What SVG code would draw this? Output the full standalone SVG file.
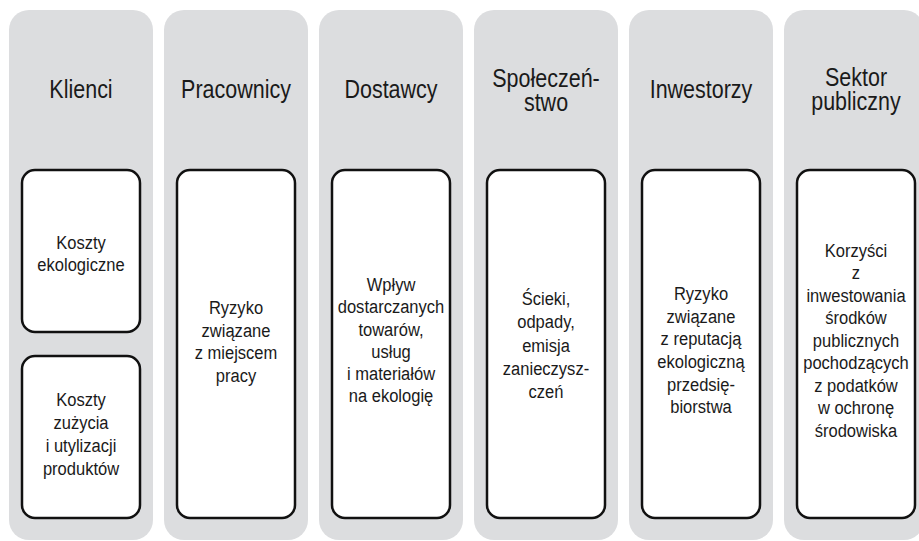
<svg xmlns="http://www.w3.org/2000/svg" width="919" height="541" viewBox="0 0 919 541">
  <style>
    .col { fill: #dcdddf; }
    .box { fill: #ffffff; stroke: #111111; stroke-width: 2.5; }
    .title { font-family: "Liberation Sans", Arial, sans-serif; font-size: 25px; fill: #1a1a1a; text-anchor: middle; }
    .label { font-family: "Liberation Sans", Arial, sans-serif; font-size: 19px; fill: #1a1a1a; text-anchor: middle; }
  </style>
  <rect width="919" height="541" fill="#ffffff"/>

  <!-- Stakeholder columns -->
  <g id="col-klienci">
    <rect class="col" x="9" y="10" width="144" height="530" rx="20"/>
    <text class="title" transform="translate(81 0) scale(0.86 1)"><tspan x="0" y="98">Klienci</tspan></text>
  </g>
  <g id="col-pracownicy">
    <rect class="col" x="164" y="10" width="144" height="530" rx="20"/>
    <text class="title" transform="translate(236 0) scale(0.86 1)"><tspan x="0" y="98">Pracownicy</tspan></text>
  </g>
  <g id="col-dostawcy">
    <rect class="col" x="319" y="10" width="144" height="530" rx="20"/>
    <text class="title" transform="translate(391 0) scale(0.86 1)"><tspan x="0" y="98">Dostawcy</tspan></text>
  </g>
  <g id="col-spoleczenstwo">
    <rect class="col" x="474" y="10" width="144" height="530" rx="20"/>
    <text class="title" transform="translate(546 0) scale(0.86 1)"><tspan x="0" y="87">Społeczeń-</tspan><tspan x="0" y="111">stwo</tspan></text>
  </g>
  <g id="col-inwestorzy">
    <rect class="col" x="629" y="10" width="144" height="530" rx="20"/>
    <text class="title" transform="translate(701 0) scale(0.86 1)"><tspan x="0" y="98">Inwestorzy</tspan></text>
  </g>
  <g id="col-sektor">
    <rect class="col" x="784" y="10" width="140" height="530" rx="20"/>
    <text class="title" transform="translate(856 0) scale(0.86 1)"><tspan x="0" y="86">Sektor</tspan><tspan x="0" y="110">publiczny</tspan></text>
  </g>

  <!-- Impact boxes -->
  <g id="box-koszty-ekologiczne">
    <rect class="box" x="22" y="170" width="118" height="162" rx="13"/>
    <text class="label" transform="translate(81 0) scale(0.87 1)"><tspan x="0" y="249">Koszty</tspan><tspan x="0" y="271">ekologiczne</tspan></text>
  </g>
  <g id="box-koszty-zuzycia">
    <rect class="box" x="22" y="356" width="118" height="162" rx="13"/>
    <text class="label" transform="translate(81 0) scale(0.87 1)"><tspan x="0" y="406">Koszty</tspan><tspan x="0" y="429">zużycia</tspan><tspan x="0" y="452">i utylizacji</tspan><tspan x="0" y="475">produktów</tspan></text>
  </g>
  <g id="box-ryzyko-pracy">
    <rect class="box" x="177" y="170" width="118" height="348" rx="13"/>
    <text class="label" transform="translate(236 0) scale(0.87 1)"><tspan x="0" y="314">Ryzyko</tspan><tspan x="0" y="336.7">związane</tspan><tspan x="0" y="359.4">z miejscem</tspan><tspan x="0" y="382">pracy</tspan></text>
  </g>
  <g id="box-wplyw">
    <rect class="box" x="332" y="170" width="118" height="348" rx="13"/>
    <text class="label" transform="translate(391 0) scale(0.87 1)"><tspan x="0" y="291">Wpływ</tspan><tspan x="0" y="313.3">dostarczanych</tspan><tspan x="0" y="335.6">towarów,</tspan><tspan x="0" y="357.9">usług</tspan><tspan x="0" y="380.2">i materiałów</tspan><tspan x="0" y="402.5">na ekologię</tspan></text>
  </g>
  <g id="box-scieki">
    <rect class="box" x="487" y="170" width="118" height="348" rx="13"/>
    <text class="label" transform="translate(546 0) scale(0.87 1)"><tspan x="0" y="305">Ścieki,</tspan><tspan x="0" y="328.3">odpady,</tspan><tspan x="0" y="351.6">emisja</tspan><tspan x="0" y="374.9">zanieczysz-</tspan><tspan x="0" y="398.2">czeń</tspan></text>
  </g>
  <g id="box-ryzyko-reputacji">
    <rect class="box" x="642" y="170" width="118" height="348" rx="13"/>
    <text class="label" transform="translate(701 0) scale(0.87 1)"><tspan x="0" y="300">Ryzyko</tspan><tspan x="0" y="322.7">związane</tspan><tspan x="0" y="345.4">z reputacją</tspan><tspan x="0" y="368.1">ekologiczną</tspan><tspan x="0" y="390.8">przedsię-</tspan><tspan x="0" y="413.5">biorstwa</tspan></text>
  </g>
  <g id="box-korzysci">
    <rect class="box" x="797" y="170" width="118" height="348" rx="13"/>
    <text class="label" transform="translate(856 0) scale(0.87 1)"><tspan x="0" y="256.7">Korzyści</tspan><tspan x="0" y="279.2">z</tspan><tspan x="0" y="301.7">inwestowania</tspan><tspan x="0" y="324.2">środków</tspan><tspan x="0" y="346.7">publicznych</tspan><tspan x="0" y="369.2">pochodzących</tspan><tspan x="0" y="391.7">z podatków</tspan><tspan x="0" y="414.2">w ochronę</tspan><tspan x="0" y="436.7">środowiska</tspan></text>
  </g>

  <!-- No connectors in this diagram -->
  <g id="connectors"/>
</svg>
